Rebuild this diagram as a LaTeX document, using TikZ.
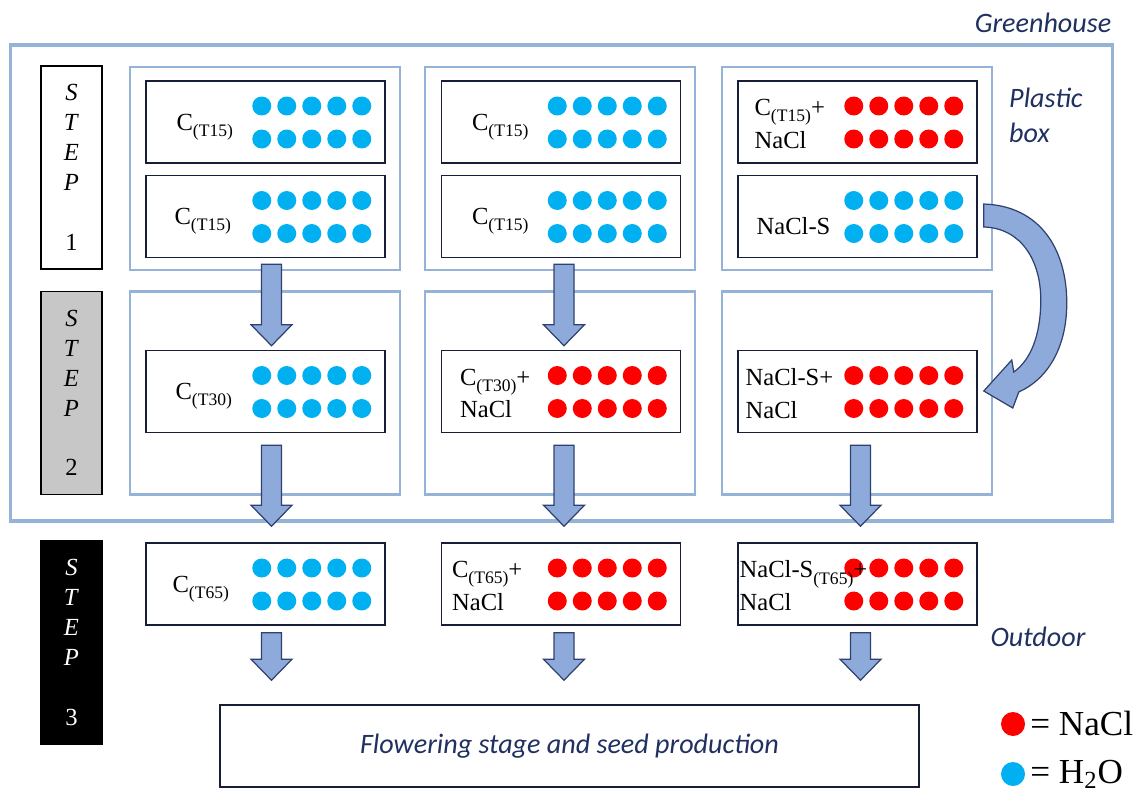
\documentclass[tikz,border=0pt]{standalone}
\usepackage{fontspec}
\setmainfont{Liberation Serif}
\newfontfamily\handfont{Carlito}
\usetikzlibrary{calc,positioning}

\definecolor{saltred}{RGB}{255,0,0}
\definecolor{waterblue}{RGB}{0,176,240}
\definecolor{boxblue}{RGB}{149,179,215}
\definecolor{arrowfill}{RGB}{142,170,219}
\definecolor{arrowline}{RGB}{47,66,110}
\definecolor{trayline}{RGB}{25,30,55}
\definecolor{inkblue}{RGB}{32,48,96}

\newcommand{\tsub}[1]{\raisebox{-3.5pt}{\fontsize{10}{12}\selectfont #1}}

\tikzset{
 tray/.style
  = {rectangle, draw=trayline, line width=0.9pt, minimum width=4.78cm,
     minimum height=1.64cm, inner sep=0pt},
 pbox/.style
  = {rectangle, draw=boxblue, line width=1.2pt, minimum width=5.4cm,
     minimum height=4.06cm, inner sep=0pt},
 stepbox/.style
  = {rectangle, draw=black, line width=0.9pt, minimum width=1.22cm,
     minimum height=4.06cm, inner sep=0pt, align=center,
     font=\fontsize{14}{17}\selectfont},
 lbl/.style
  = {anchor=west, align=left, inner sep=0pt, font=\fontsize{14}{18.7}\selectfont},
 hand/.style
  = {text=inkblue, font=\handfont\itshape\fontsize{16}{20}\selectfont},
 h2o/.style = {fill=waterblue},
 nacl/.style = {fill=saltred},
 blk/.style
  = {fill=arrowfill, draw=arrowline, line width=0.7pt, line join=miter},
 fat/.style
  = {to path={let \p1=(\tikztostart), \p2=(\tikztotarget) in
     ({\x1-0.2cm},\y1) -- ({\x1-0.2cm},{\y2+0.42cm}) -- ({\x1-0.41cm},{\y2+0.42cm})
     -- (\x1,\y2) -- ({\x1+0.41cm},{\y2+0.42cm}) -- ({\x1+0.2cm},{\y2+0.42cm})
     -- ({\x1+0.2cm},\y1) -- cycle}},
}

\begin{document}
\begin{tikzpicture}[x=0.02cm, y=-0.02cm]
\useasboundingbox (0,0) rectangle (1146,794);

% Greenhouse
\node[rectangle, draw=boxblue, line width=1.8pt, minimum width=22.06cm,
      minimum height=9.52cm] (gh) at (561.5,283) {};
\node[hand] (ghtext) at (1043,23) {Greenhouse};
\node[hand, align=left, anchor=west] (pbtext) at (1003,115) {Plastic\\box};
\node[hand] (outtext) at (1038,637) {Outdoor};

% Steps
\node[stepbox] (s1) at (71.5,167.5)
  {\textit{S}\\\textit{T}\\\textit{E}\\\textit{P}\\[17pt]1};
\node[stepbox, fill=black!22] (s2) at (71.5,393)
  {\textit{S}\\\textit{T}\\\textit{E}\\\textit{P}\\[17pt]2};
\node[stepbox, fill=black, text=white] (s3) at (71.5,642.5)
  {\textit{S}\\\textit{T}\\\textit{E}\\\textit{P}\\[17pt]3};

% Plastic boxes
\foreach \n/\px/\py in {p11/265/168.5, p21/560/168.5, p31/857/168.5,
                        p12/265/393, p22/560/393, p32/857/393}
  \node[pbox] (\n) at (\px,\py) {};

% Trays with dots
\foreach \n/\px/\py/\c in {t11a/265.5/122/h2o, t11b/265.5/216.5/h2o,
    t21a/561/122/h2o, t21b/561/216.5/h2o, t31a/857.5/122/nacl, t31b/857.5/216.5/h2o,
    t12/265.5/391.5/h2o, t22/561/391.5/nacl, t32/857.5/391.5/nacl,
    t13/265.5/584/h2o, t23/561/584/nacl, t33/857.5/584/nacl} {
  \node[tray] (\n) at (\px,\py) {};
  \foreach \k in {0,...,4} {
    \fill[\c] ($(\n.east)+(-24-25*\k,-16)$) circle (0.19cm);
    \fill[\c] ($(\n.east)+(-24-25*\k,17)$) circle (0.19cm);
  }
}

% Tray labels
\node[lbl] (l11a) at ($(t11a.west)+(31,5)$) {C\tsub{(T15)}};
\node[lbl] (l11b) at ($(t11b.west)+(29,5)$) {C\tsub{(T15)}};
\node[lbl] (l21a) at ($(t21a.west)+(31,5)$) {C\tsub{(T15)}};
\node[lbl] (l21b) at ($(t21b.west)+(31,5)$) {C\tsub{(T15)}};
\node[lbl] (l31a) at ($(t31a.west)+(17,2)$) {C\tsub{(T15)}+\\NaCl};
\node[lbl] (l31b) at ($(t31b.west)+(19,10)$) {NaCl-S};
\node[lbl] (l12) at ($(t12.west)+(30,5)$) {C\tsub{(T30)}};
\node[lbl] (l22) at ($(t22.west)+(19,2)$) {C\tsub{(T30)}+\\NaCl};
\node[lbl] (l32) at ($(t32.west)+(8,2)$) {NaCl-S+\\NaCl};
\node[lbl] (l13) at ($(t13.west)+(27,5)$) {C\tsub{(T65)}};
\node[lbl] (l23) at ($(t23.west)+(11,2)$) {C\tsub{(T65)}+\\NaCl};
\node[lbl] (l33) at ($(t33.west)+(2,2)$) {NaCl-S\tsub{(T65)}+\\NaCl};

% Final stage
\node[rectangle, draw=trayline, line width=0.9pt, minimum width=13.98cm,
      minimum height=1.64cm, hand] (fin) at (569.5,746)
  {Flowering stage and seed production};

% Arrows
\draw[blk] ($(t11b.south)+(6,6)$) to[fat] ($(t12.north)+(6,-4)$);
\draw[blk] ($(t21b.south)+(3,6)$) to[fat] ($(t22.north)+(3,-4)$);
\draw[blk] ($(t12.south)+(6,12)$) to[fat] ($(t13.north)+(6,-16)$);
\draw[blk] ($(t22.south)+(3,12)$) to[fat] ($(t23.north)+(3,-16)$);
\draw[blk] ($(t32.south)+(3,12)$) to[fat] ($(t33.north)+(3,-16)$);
\draw[blk] ($(t13.south)+(6,7)$) to[fat] ($(fin.north)+(0,-24)$);
\draw[blk] ($(t23.south)+(3,7)$) to[fat] ($(fin.north)+(0,-24)$);
\draw[blk] ($(t33.south)+(3,7)$) to[fat] ($(fin.north)+(0,-24)$);

% Curved arrow
\begin{scope}[shift={(t31b.east)}]
\draw[blk] (6,-12.5) .. controls (63,-10.5) and (89,33.5) .. (89,86.5)
  .. controls (89,133.5) and (68,163.5) .. (41,175.5)
  -- (35,191.5) -- (6,174.5) -- (34,143.5) -- (36,155.5)
  .. controls (53,143.5) and (63,118.5) .. (63,83.5)
  .. controls (63,43.5) and (43,11.5) .. (6,10.5) -- cycle;
\end{scope}

% Legend
\fill[nacl] (1013,724) circle (0.24cm);
\node[anchor=base west, inner sep=0pt, font=\fontsize{20}{24}\selectfont]
  (legnacl) at (1030,735) {= NaCl};
\fill[h2o] (1013,774) circle (0.24cm);
\node[anchor=base west, inner sep=0pt, font=\fontsize{20}{24}\selectfont]
  (legh2o) at (1030,783) {= H\textsubscript{2}O};

\end{tikzpicture}
\end{document}
